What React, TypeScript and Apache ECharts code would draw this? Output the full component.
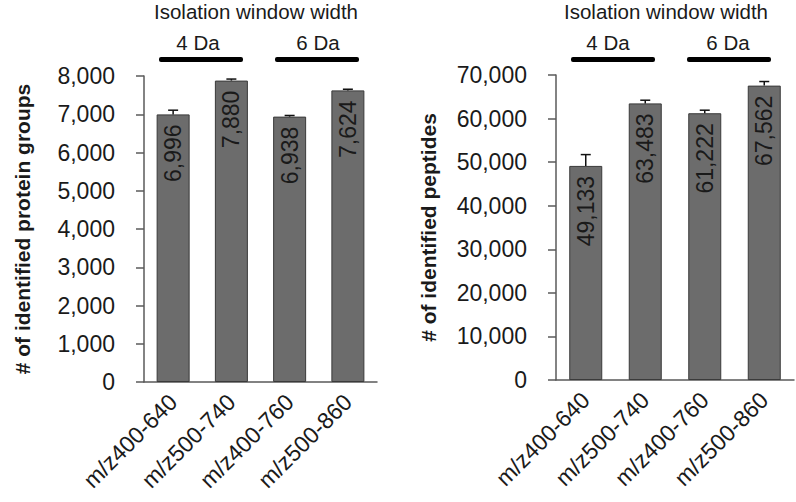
import React, { useEffect, useRef } from "react";
import * as echarts from "echarts";

const categories = ["m/z400-640", "m/z500-740", "m/z400-760", "m/z500-860"];
const proteinGroups = [6996, 7880, 6938, 7624];
const proteinErr = [110, 40, 30, 30];
const peptides = [49133, 63483, 61222, 67562];
const peptideErr = [2600, 730, 700, 940];
const leftTicks = { min: 0, max: 8000, interval: 1000 };
const rightTicks = { min: 0, max: 70000, interval: 10000 };
const groupTitle = "Isolation window width";
const windowLabels = ["4 Da", "6 Da"];

const FONT = "Liberation Sans, Arial, sans-serif";
const TXT = "#1a1a1a";
const AXIS = "#5a5a5a";

const fmt = (v: number) => v.toLocaleString("en-US");

function errSeries(idx: number, vals: number[], errs: number[]) {
  return {
    type: "custom",
    xAxisIndex: idx,
    yAxisIndex: idx,
    z: 5,
    data: vals.map((v, i) => [i, v, errs[i]]),
    renderItem: (params: any, api: any) => {
      const x = api.value(0);
      const v = api.value(1);
      const e = api.value(2);
      const p0 = api.coord([x, v]);
      const p1 = api.coord([x, v + e]);
      const style = { stroke: "#111", lineWidth: 1.5 };
      return {
        type: "group",
        children: [
          { type: "line", shape: { x1: p0[0], y1: p0[1], x2: p1[0], y2: p1[1] }, style },
          { type: "line", shape: { x1: p1[0] - 5, y1: p1[1], x2: p1[0] + 5, y2: p1[1] }, style },
        ],
      };
    },
  };
}

function barSeries(idx: number, vals: number[]) {
  return {
    type: "bar",
    xAxisIndex: idx,
    yAxisIndex: idx,
    data: vals,
    barWidth: 33,
    z: 3,
    itemStyle: { color: "#6c6c6c", borderColor: "#3a3a3a", borderWidth: 1 },
    label: {
      show: true,
      position: "insideTop",
      rotate: 90,
      align: "right",
      verticalAlign: "middle",
      distance: 10,
      formatter: (p: any) => fmt(p.value),
      fontSize: 23,
      fontFamily: FONT,
      color: TXT,
    },
  };
}

function xAxis(idx: number) {
  return {
    type: "category",
    gridIndex: idx,
    data: categories,
    axisLine: { show: true, lineStyle: { color: AXIS, width: 1.5 } },
    axisTick: { show: false },
    axisLabel: { rotate: 45, fontSize: 23, fontFamily: FONT, color: TXT, margin: 16, interval: 0 },
  };
}

function yAxis(idx: number, t: any, name: string, gap: number) {
  return {
    type: "value",
    gridIndex: idx,
    min: t.min,
    max: t.max,
    interval: t.interval,
    name,
    nameLocation: "middle",
    nameRotate: 90,
    nameGap: gap,
    nameTextStyle: { fontSize: 21, fontWeight: "bold", fontFamily: FONT, color: TXT },
    axisLine: { show: true, lineStyle: { color: AXIS, width: 1.5 } },
    axisTick: { show: true, length: 8, lineStyle: { color: AXIS, width: 1.5 } },
    splitLine: { show: false },
    axisLabel: { fontSize: 23, fontFamily: FONT, color: TXT, margin: 29, formatter: (v: number) => fmt(v) },
  };
}

function header(cx: number, l1: number, l2: number, w1: number, w2: number) {
  const ts = { fontSize: 20.5, fontFamily: FONT, fill: TXT, textAlign: "center", textVerticalAlign: "middle" };
  return [
    { type: "text", x: cx, y: 11, style: { ...ts, text: groupTitle } },
    { type: "text", x: l1, y: 42, style: { ...ts, text: windowLabels[0] } },
    { type: "text", x: l2, y: 42, style: { ...ts, text: windowLabels[1] } },
    { type: "rect", shape: { x: w1, y: 57, width: 84, height: 5, r: 2 }, style: { fill: "#000" } },
    { type: "rect", shape: { x: w2, y: 57, width: 84, height: 5, r: 2 }, style: { fill: "#000" } },
  ];
}

export default function App() {
  const ref = useRef<HTMLDivElement>(null);
  useEffect(() => {
    if (!ref.current) return;
    const chart = echarts.init(ref.current, null, { renderer: "svg" });
    chart.setOption({
      animation: false,
      backgroundColor: "#fff",
      grid: [
        { left: 144, top: 76, width: 233, height: 306 },
        { left: 556, top: 75, width: 238, height: 305 },
      ],
      xAxis: [xAxis(0), xAxis(1)],
      yAxis: [
        yAxis(0, leftTicks, "# of identified protein groups", 111),
        yAxis(1, rightTicks, "# of identified peptides", 117),
      ],
      series: [
        barSeries(0, proteinGroups),
        errSeries(0, proteinGroups, proteinErr),
        barSeries(1, peptides),
        errSeries(1, peptides, peptideErr),
      ],
      graphic: [...header(256, 198, 318, 159, 275), ...header(666, 608, 728, 571, 687)],
    });
    return () => chart.dispose();
  }, []);
  return <div ref={ref} style={{ width: 796, height: 502, position: "absolute", left: 0, top: 0 }} />;
}
